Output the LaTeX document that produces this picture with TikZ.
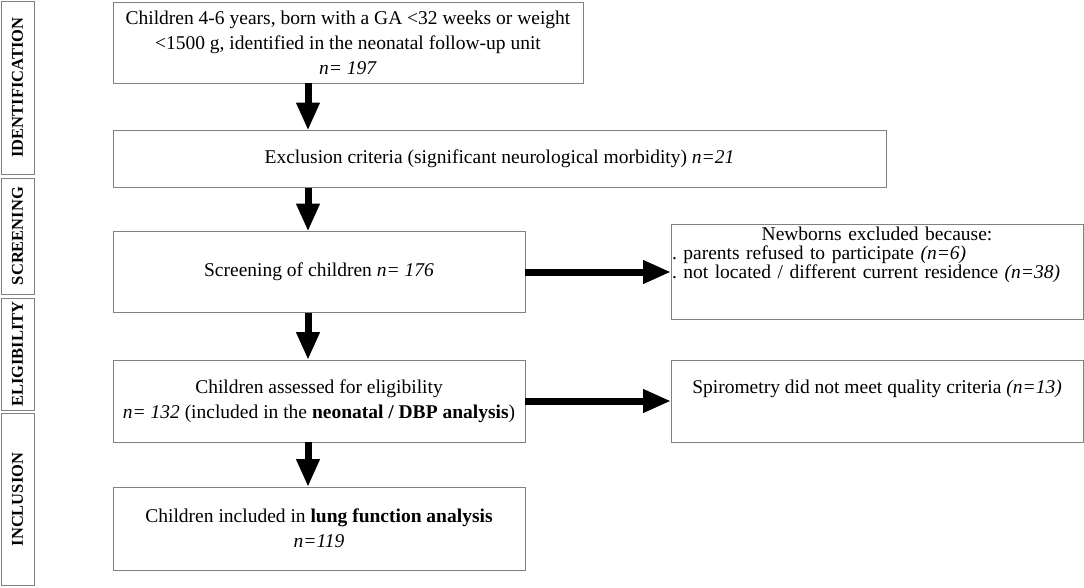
\documentclass[tikz,border=0pt]{standalone}
\usepackage{fontspec}
\setmainfont{Liberation Serif}
\usetikzlibrary{positioning,arrows.meta}

\begin{document}
\begin{tikzpicture}[x=1pt,y=-1pt]
  \definecolor{boxgray}{RGB}{128,128,128}
  \tikzset{
    box/.style={
      draw=boxgray, line width=1pt, inner sep=0pt, outer sep=0pt,
      align=center, font=\fontsize{19.5}{25}\selectfont
    },
    boxtext/.style={
      inner sep=0pt, font=\fontsize{19.5}{19}\selectfont\frenchspacing
    },
    phase/.style={
      draw=boxgray, line width=1pt, rotate=90, inner sep=0pt, outer sep=0pt,
      minimum height=33pt, font=\fontsize{16.5}{18}\selectfont\bfseries
    },
    flow/.style={
      -{Triangle[length=28pt,width=22pt]}, line width=7pt, draw=black
    }
  }
  \useasboundingbox (0,0) rectangle (1084,587);

  % ======= phases (left column) =======
  \node[phase, minimum width=173pt] (pId)   at (17.5, 87.5) {IDENTIFICATION};
  \node[phase, minimum width=116pt] (pScr)  at (17.5,236.0) {SCREENING};
  \node[phase, minimum width=112pt] (pElig) at (17.5,354.0) {ELIGIBILITY};
  \node[phase, minimum width=172pt] (pIncl) at (17.5,499.5) {INCLUSION};

  % ======= main flow =======
  \node[box, minimum width=470pt, minimum height=81pt] (bId) at (348,42.5)
    {Children 4-6 years, born with a GA <32 weeks or weight\\
     <1500 g, identified in the neonatal follow-up unit\\
     \textit{n= 197}};
  \node[box, minimum width=773pt, minimum height=57pt] (bExc) at (499.5,159)
    {Exclusion criteria (significant neurological morbidity) \textit{n=21}};
  \node[box, minimum width=412pt, minimum height=81pt] (bScr) at (319,272)
    {Screening of children \textit{n= 176}};
  \node[box, minimum width=412pt, minimum height=82pt] (bElig) at (319,401)
    {Children assessed for eligibility\\
     \textit{n= 132} (included in the \textbf{neonatal / DBP analysis})};
  \node[box, minimum width=412pt, minimum height=83pt] (bIncl) at (319,528.5)
    {Children included in \textbf{lung function analysis}\\
     \textit{n=119}};

  % ======= exclusions (right column) =======
  \node[box, minimum width=412pt, minimum height=95pt] (xNew) at (877,271.5) {};
  \node[boxtext, text width=410pt, below=3pt of xNew.north] (tNew)
    {{\centering Newborns excluded because:\par}
     \raggedright
     . parents refused to participate \textit{(n=6)}\\
     . not located / different current residence \textit{(n=38)}};
  \node[box, minimum width=412pt, minimum height=82pt] (xSpi) at (877,401) {};
  \node[boxtext, below=20pt of xSpi.north] (tSpi)
    {Spirometry did not meet quality criteria \textit{(n=13)}};

  % ======= arrows =======
  \coordinate (ax) at (308,0);
  \draw[flow] (bId.south -| ax)   -- (bExc.north -| ax);
  \draw[flow] (bExc.south -| ax)  -- (bScr.north -| ax);
  \draw[flow] (bScr.south -| ax)  -- (bElig.north -| ax);
  \draw[flow] (bElig.south -| ax) -- (bIncl.north -| ax);
  \draw[flow] (bScr.east)  -- (xNew.west |- bScr.east);
  \draw[flow] (bElig.east) -- (xSpi.west |- bElig.east);
\end{tikzpicture}
\end{document}
